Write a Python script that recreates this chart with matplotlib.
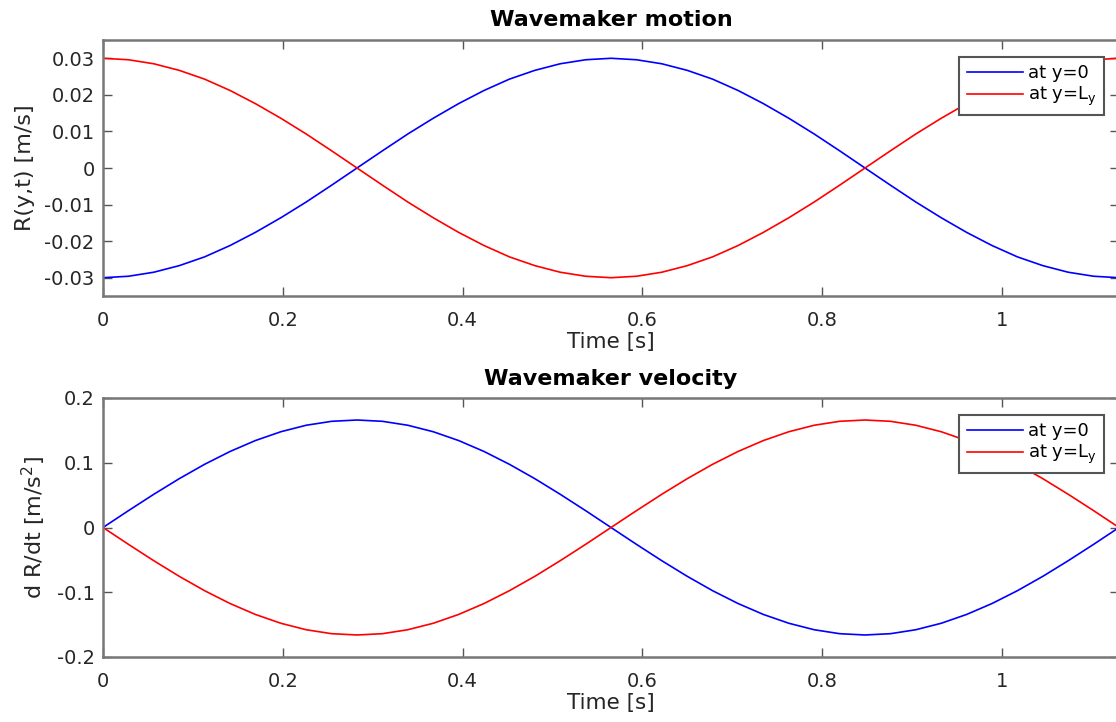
import matplotlib
matplotlib.use('Agg')
import matplotlib.pyplot as plt
from matplotlib.ticker import FuncFormatter, MultipleLocator

plt.rcParams['font.family'] = ['DejaVu Sans']
plt.rcParams['axes.unicode_minus'] = False

# tiempo [s]
t = [0.0000, 0.0283, 0.0565, 0.0848, 0.1130, 0.1413, 0.1695, 0.1978, 0.2260, 0.2543,
     0.2825, 0.3108, 0.3390, 0.3673, 0.3955, 0.4238, 0.4520, 0.4803, 0.5085, 0.5368,
     0.5650, 0.5933, 0.6215, 0.6498, 0.6780, 0.7063, 0.7345, 0.7628, 0.7910, 0.8193,
     0.8475, 0.8758, 0.9040, 0.9323, 0.9605, 0.9888, 1.0170, 1.0453, 1.0735, 1.1018,
     1.1300]

# movimiento R(y,t)
R_y0 = [-0.0300, -0.0296, -0.0285, -0.0267, -0.0243, -0.0212, -0.0176, -0.0136, -0.0093, -0.0047,
        0.0000, 0.0047, 0.0093, 0.0136, 0.0176, 0.0212, 0.0243, 0.0267, 0.0285, 0.0296,
        0.0300, 0.0296, 0.0285, 0.0267, 0.0243, 0.0212, 0.0176, 0.0136, 0.0093, 0.0047,
        0.0000, -0.0047, -0.0093, -0.0136, -0.0176, -0.0212, -0.0243, -0.0267, -0.0285, -0.0296,
        -0.0300]
R_yL = [0.0300, 0.0296, 0.0285, 0.0267, 0.0243, 0.0212, 0.0176, 0.0136, 0.0093, 0.0047,
        0.0000, -0.0047, -0.0093, -0.0136, -0.0176, -0.0212, -0.0243, -0.0267, -0.0285, -0.0296,
        -0.0300, -0.0296, -0.0285, -0.0267, -0.0243, -0.0212, -0.0176, -0.0136, -0.0093, -0.0047,
        0.0000, 0.0047, 0.0093, 0.0136, 0.0176, 0.0212, 0.0243, 0.0267, 0.0285, 0.0296,
        0.0300]

# velocidad dR/dt
V_y0 = [0.0000, 0.0260, 0.0513, 0.0754, 0.0976, 0.1174, 0.1343, 0.1479, 0.1579, 0.1640,
        0.1660, 0.1640, 0.1579, 0.1479, 0.1343, 0.1174, 0.0976, 0.0754, 0.0513, 0.0260,
        0.0000, -0.0260, -0.0513, -0.0754, -0.0976, -0.1174, -0.1343, -0.1479, -0.1579, -0.1640,
        -0.1660, -0.1640, -0.1579, -0.1479, -0.1343, -0.1174, -0.0976, -0.0754, -0.0513, -0.0260,
        0.0000]
V_yL = [0.0000, -0.0260, -0.0513, -0.0754, -0.0976, -0.1174, -0.1343, -0.1479, -0.1579, -0.1640,
        -0.1660, -0.1640, -0.1579, -0.1479, -0.1343, -0.1174, -0.0976, -0.0754, -0.0513, -0.0260,
        0.0000, 0.0260, 0.0513, 0.0754, 0.0976, 0.1174, 0.1343, 0.1479, 0.1579, 0.1640,
        0.1660, 0.1640, 0.1579, 0.1479, 0.1343, 0.1174, 0.0976, 0.0754, 0.0513, 0.0260,
        0.0000]

labels = ['at y=0', 'at y=L$\\mathregular{_y}$']

W, H = 1116, 722
AXW = W - 103 + 3  # el eje derecho queda fuera de la imagen
fig = plt.figure(figsize=(W/100, H/100), dpi=100)

def fmt(v, pos):
    s = '%g' % round(v, 6)
    return '0' if s == '-0' else s

def setup(ax, ylim, ystep, ylabel, title, ylab_x, tpad):
    ax.set_xlim(0, 1.13)
    ax.set_ylim(*ylim)
    ax.xaxis.set_major_locator(MultipleLocator(0.2))
    ax.yaxis.set_major_locator(MultipleLocator(ystep))
    ax.xaxis.set_major_formatter(FuncFormatter(fmt))
    ax.yaxis.set_major_formatter(FuncFormatter(fmt))
    ax.tick_params(direction='in', length=6.5, width=1, color='#555555', labelsize=14,
                   labelcolor='#262626', top=True, right=True, pad=6)
    ax.tick_params(axis='x', pad=11)
    for s in ax.spines.values():
        s.set_color('#777777')
        s.set_linewidth(1.8)
    ax.set_xlabel('Time [s]', fontsize=15.5, color='#262626', labelpad=1.5)
    ax.set_ylabel(ylabel, fontsize=16, color='#262626')
    ax.yaxis.set_label_coords((ylab_x - 103) / AXW, 0.5)
    ax.set_title(title, fontsize=16, fontweight='bold', pad=tpad)

def legend(ax, ytop):
    leg = ax.legend(labels, loc='upper right', bbox_to_anchor=(1104/W, 1 - ytop/H),
                    bbox_transform=fig.transFigure, fontsize=13, fancybox=False,
                    framealpha=1, edgecolor='#555555', borderpad=0.4, labelspacing=0.15,
                    handlelength=3.1, handletextpad=0.3, borderaxespad=0)
    leg.get_frame().set_linewidth(1.5)

ax1 = fig.add_axes([103/W, 1 - 296/H, AXW/W, 256/H])
ax1.plot(t, R_y0, color='#0000ff', lw=1.2)
ax1.plot(t, R_yL, color='#ff0000', lw=1.2)
setup(ax1, (-0.035, 0.035), 0.01, 'R(y,t) [m/s]', 'Wavemaker motion', 35, 10)
legend(ax1, 57)

ax2 = fig.add_axes([103/W, 1 - 657/H, AXW/W, 259/H])
ax2.plot(t, V_y0, color='#0000ff', lw=1.2)
ax2.plot(t, V_yL, color='#ff0000', lw=1.2)
setup(ax2, (-0.2, 0.2), 0.1, 'd R/dt [m/s$\\mathregular{^2}$]', 'Wavemaker velocity', 48, 9.5)
legend(ax2, 415)

fig.savefig('out.png', dpi=100)
